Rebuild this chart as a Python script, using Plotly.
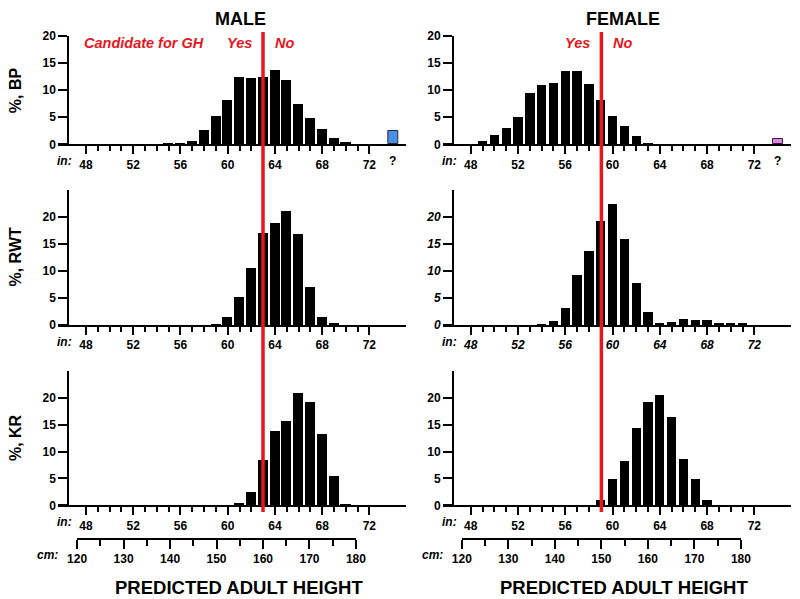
import plotly.graph_objects as go

WIN_W, WIN_H = 800, 599
OFF = 8  # default page body margin around the figure
W, H = WIN_W - OFF, WIN_H - OFF
FONT = "Liberation Sans, Arial, sans-serif"
RED = "rgb(232,22,30)"

# ---------------- data (percent of subjects per predicted-height inch) ----------------
male_bp_in = list(range(55, 71))
male_bp = [0.1, 0.3, 0.7, 2.6, 5.2, 8.2, 12.4, 12.3, 12.4, 13.7, 11.9, 7.4, 4.9, 2.9, 1.2, 0.4]
male_rwt_in = list(range(59, 70))
male_rwt = [0.1, 1.4, 5.2, 10.6, 17.0, 18.8, 21.2, 16.9, 7.1, 1.4, 0.3]
male_kr_in = list(range(61, 71))
male_kr = [0.4, 2.5, 8.4, 13.8, 15.7, 20.9, 19.2, 13.2, 5.4, 0.2]

female_bp_in = list(range(49, 64))
female_bp = [0.55, 1.8, 3.0, 5.0, 9.4, 11.0, 11.4, 13.5, 13.5, 11.1, 8.1, 5.2, 3.3, 1.5, 0.25]
female_rwt_in = list(range(54, 72))
female_rwt = [0.1, 0.8, 3.1, 9.3, 13.7, 19.3, 22.5, 16.0, 7.7, 2.5, 0.2, 0.6, 1.2, 0.9, 0.9, 0.4, 0.4, 0.3]
female_kr_in = list(range(59, 69))
female_kr = [1.0, 4.9, 8.2, 14.4, 19.3, 20.6, 16.4, 8.7, 4.9, 1.1]

unknown_x = 74
unknown_label = "?"
male_bp_unknown = 2.5
female_bp_unknown = 0.9

cutoff_cm = {"MALE": 160, "FEMALE": 150}
row_names = ["BP", "RWT", "KR"]
col_names = ["MALE", "FEMALE"]

in_ticks = [48, 52, 56, 60, 64, 68, 72]
in_minor = [v for v in range(49, 72) if v % 4]
cm_ticks = [120, 130, 140, 150, 160, 170, 180]
cm_minor = [125, 135, 145, 155, 165, 175]
y_ticks = [0, 5, 10, 15, 20]
y_tops = [20, 25, 25]

series = {
    (0, 0): (male_bp_in, male_bp), (0, 1): (female_bp_in, female_bp),
    (1, 0): (male_rwt_in, male_rwt), (1, 1): (female_rwt_in, female_rwt),
    (2, 0): (male_kr_in, male_kr), (2, 1): (female_kr_in, female_kr),
}
unknown = {0: (male_bp_unknown, "rgb(74,144,226)"), 1: (female_bp_unknown, "rgb(232,128,232)")}

# ---------------- layout geometry (window pixel positions) ----------------
def fx(px):
    return (px - OFF) / W

def fy(py):
    return 1 - (py - OFF) / H

X_RANGE = [45.65, 75.08]
YAXIS_AT = 46.5
COL_PX = [(58.3, 405.7), (443.0, 790.7)]
ROW_PX = [(36.0, 144.3), (190.0, 325.0), (370.8, 505.3)]
BAR_W = [0.86, 0.79]
CM_LINE_PX = 537.7

def in_to_px(c, v):
    l, r = COL_PX[c]
    return l + (v - X_RANGE[0]) / (X_RANGE[1] - X_RANGE[0]) * (r - l)

def tfont(size=12, italic=False, color="black"):
    return dict(family=FONT, size=size, color=color, weight="bold",
                style="italic" if italic else "normal")

fig = go.Figure()
layout = dict(template="none", width=W, height=H, margin=dict(l=0, r=0, t=0, b=0, pad=0),
              autosize=False, paper_bgcolor="white", plot_bgcolor="white", showlegend=False,
              bargap=0, barmode="overlay")
annotations = []
shapes = []

for r in range(3):
    for c in range(2):
        idx = r * 2 + c + 1
        sx = "" if idx == 1 else str(idx)
        xs, ys = series[(r, c)]
        fig.add_trace(go.Bar(x=xs, y=ys, width=BAR_W[c], xaxis="x" + sx, yaxis="y" + sx,
                             marker=dict(color="black", line=dict(width=0)), hoverinfo="skip"))
        if r == 0:
            val, col = unknown[c]
            fig.add_trace(go.Bar(x=[unknown_x], y=[val], width=BAR_W[c], xaxis="x" + sx, yaxis="y" + sx,
                                 marker=dict(color=col, line=dict(color="rgb(40,40,60)", width=1)),
                                 hoverinfo="skip"))
        italic = (idx == 4)
        top, bot = ROW_PX[r]
        l, rr = COL_PX[c]
        layout["xaxis" + sx] = dict(
            domain=[fx(l), fx(rr)], range=X_RANGE, anchor="y" + sx, automargin=False,
            showline=True, linecolor="black", linewidth=2, showgrid=False, zeroline=False,
            ticks="outside", tickvals=in_ticks, ticklen=8, tickwidth=2, tickcolor="black",
            tickfont=tfont(12, italic),
            minor=dict(tickvals=in_minor, ticks="outside", ticklen=5, tickwidth=1.5, tickcolor="black",
                       showgrid=False),
            fixedrange=True)
        layout["yaxis" + sx] = dict(
            domain=[fy(bot), fy(top)], range=[0, y_tops[r]], anchor="free", automargin=False,
            position=fx(in_to_px(c, YAXIS_AT)),
            showline=True, linecolor="black", linewidth=2, showgrid=False, zeroline=False,
            ticks="outside", tickvals=y_ticks, ticklen=9, tickwidth=2, tickcolor="black",
            tickfont=tfont(12, italic), fixedrange=True)
        # "in:" label
        annotations.append(dict(text="in:", xref="paper", yref="paper", x=fx(l + 16), y=fy(bot + 17),
                                xanchor="right", yanchor="middle", showarrow=False,
                                font=tfont(12, True)))
        if r == 0:
            annotations.append(dict(text=unknown_label, xref="x" + sx, yref="paper", x=unknown_x,
                                    y=fy(bot + 17), xanchor="center", yanchor="middle",
                                    showarrow=False, font=tfont(12)))
        if c == 0:
            annotations.append(dict(text="%, " + row_names[r], xref="paper", yref="paper",
                                    x=fx(15), y=fy((top + bot) / 2), textangle=-90,
                                    xanchor="center", yanchor="middle", showarrow=False,
                                    font=tfont(16)))

# cm scales
for c in range(2):
    n = 7 + c
    l = in_to_px(c, cm_ticks[0] / 2.54)
    rr = in_to_px(c, cm_ticks[-1] / 2.54)
    layout["xaxis%d" % n] = dict(
        domain=[fx(l), fx(rr)], range=[cm_ticks[0], cm_ticks[-1]], anchor="y%d" % n, automargin=False,
        showline=True, linecolor="black", linewidth=2, showgrid=False, zeroline=False,
        ticks="outside", tickvals=cm_ticks, ticklen=9, tickwidth=2, tickcolor="black",
        tickfont=tfont(12),
        minor=dict(tickvals=cm_minor, ticks="outside", ticklen=6, tickwidth=1.5, tickcolor="black",
                   showgrid=False),
        fixedrange=True)
    layout["yaxis%d" % n] = dict(domain=[fy(CM_LINE_PX), fy(CM_LINE_PX) + 0.01], anchor="x%d" % n,
                                 visible=False, range=[0, 1], fixedrange=True, automargin=False)
    fig.add_trace(go.Scatter(x=[cm_ticks[0], cm_ticks[-1]], y=[0, 0], xaxis="x%d" % n, yaxis="y%d" % n,
                             mode="markers", marker=dict(size=1, color="rgba(0,0,0,0)"),
                             hoverinfo="skip"))
    annotations.append(dict(text="cm:", xref="paper", yref="paper", x=fx(COL_PX[c][0] + 2),
                            y=fy(CM_LINE_PX + 17), xanchor="right", yanchor="middle",
                            showarrow=False, font=tfont(12, True)))
    # titles (kept fully inside the figure)
    cx = [240, 623][c]
    annotations.append(dict(text=col_names[c], xref="paper", yref="paper", x=fx(cx), y=1.0,
                            xanchor="center", yanchor="top", borderpad=0, showarrow=False,
                            font=tfont(18)))
    annotations.append(dict(text="PREDICTED ADULT HEIGHT", xref="paper", yref="paper",
                            x=fx([239, 624][c]), y=fy(587), xanchor="center", yanchor="middle",
                            showarrow=False, font=tfont(18.5)))
    # GH cutoff line and labels
    sx = "" if c == 0 else "2"
    cut_in = cutoff_cm[col_names[c]] / 2.54
    shapes.append(dict(type="line", xref="x" + sx, yref="paper", x0=cut_in, x1=cut_in,
                       y0=fy(512), y1=fy(32), line=dict(color=RED, width=3.5), layer="above"))
    annotations.append(dict(text="Yes", xref="x" + sx, yref="paper", x=cut_in, xshift=-9,
                            y=fy(43), xanchor="right", yanchor="middle", showarrow=False,
                            font=tfont(14.5, True, RED)))
    annotations.append(dict(text="No", xref="x" + sx, yref="paper", x=cut_in, xshift=10,
                            y=fy(43), xanchor="left", yanchor="middle", showarrow=False,
                            font=tfont(14.5, True, RED)))
    if c == 0:
        annotations.append(dict(text="Candidate for GH", xref="x", yref="paper", x=cut_in, xshift=-57,
                                y=fy(43), xanchor="right", yanchor="middle", showarrow=False,
                                font=tfont(14.5, True, RED)))

layout["annotations"] = annotations
layout["shapes"] = shapes
fig.update_layout(**layout)
fig.write_html("out.html")
